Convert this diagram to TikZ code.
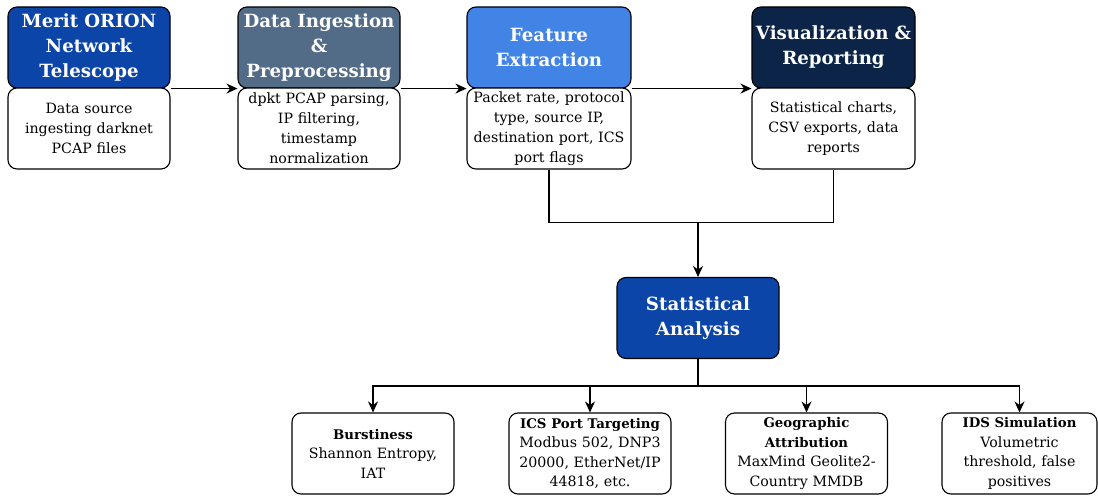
\documentclass[tikz,border=0pt]{standalone}
\usepackage{fontspec}
\setmainfont{DejaVu Serif}
\usetikzlibrary{arrows.meta}
\definecolor{cBlue}{HTML}{0B45A8}
\definecolor{cSlate}{HTML}{526B87}
\definecolor{cLight}{HTML}{4284E6}
\definecolor{cNavy}{HTML}{0B2447}
\tikzset{
  hdr/.style={draw=black, line width=1.1pt, rounded corners=9pt, minimum width=162pt, minimum height=81pt,
    text width=161pt, align=center, inner sep=0.5pt, text=white,
    font=\fontsize{18.2}{25}\selectfont\bfseries},
  bodybox/.style={draw=black, fill=white, line width=1.1pt, rounded corners=9pt, minimum width=162pt, minimum height=81pt,
    text width=161pt, align=center, inner sep=0.5pt,
    font=\fontsize{14.2}{20}\selectfont},
  leaf/.style={draw=black, fill=white, line width=1.1pt, rounded corners=9pt, minimum width=162pt, minimum height=81pt,
    text width=158pt, align=center, inner sep=1pt,
    font=\fontsize{14.2}{19.5}\selectfont},
  conn/.style={line width=1.2pt, draw=black},
  arr/.style={conn, -{Stealth[length=11pt,width=10pt]}},
}
\newcommand{\ttlfont}{\fontsize{13.3}{19.5}\selectfont\bfseries}
\begin{document}
\begin{tikzpicture}[x=1pt,y=-1pt]
\useasboundingbox (0,0) rectangle (1098,497);
% top row
\node[hdr, fill=cBlue] (h1) at (89,47.5) {Merit ORION\\Network\\Telescope};
\node[bodybox] (b1) at (89,128.5) {Data source\\ingesting darknet\\PCAP files};
\node[hdr, fill=cSlate] (h2) at (319,47.5) {Data Ingestion\\\&\\Preprocessing};
\node[bodybox] (b2) at (319,128.5) {dpkt PCAP parsing,\\IP filtering,\\timestamp\\normalization};
\node[hdr, fill=cLight, minimum width=164pt] (h3) at (549,47.5) {Feature\\Extraction};
\node[bodybox, minimum width=164pt, text width=163pt] (b3) at (549,128.5) {Packet rate, protocol\\type, source IP,\\destination port, ICS\\port flags};
\node[hdr, fill=cNavy, minimum width=163pt, text width=162pt] (h4) at (833.5,47.5) {Visualization \&\\Reporting};
\node[bodybox, minimum width=163pt] (b4) at (833.5,128.5) {Statistical charts,\\CSV exports, data\\reports};
% arrows top
\draw[arr] (h1.south east) -- (h2.south west);
\draw[arr] (h2.south east) -- (h3.south west);
\draw[arr] (h3.south east) -- (h4.south west);
% stat
\node[hdr, fill=cBlue] (st) at (698,318) {Statistical\\Analysis};
\draw[conn] (b3.south) -- ++(0,53) coordinate (jl) -| (b4.south);
\coordinate (m) at (st.north |- jl);
\draw[arr] (m) -- (st.north);
% bottom
\node[leaf] (c1) at (373,453.5) {{\ttlfont Burstiness}\\Shannon Entropy,\\IAT};
\node[leaf] (c2) at (590,453.5) {{\ttlfont ICS Port Targeting}\\Modbus 502, DNP3\\20000, EtherNet/IP\\44818, etc.};
\node[leaf] (c3) at (806.5,453.5) {{\ttlfont Geographic}\\{\ttlfont Attribution}\\MaxMind Geolite2-\\Country MMDB};
\node[leaf, minimum width=155pt, text width=153pt] (c4) at (1019.5,453.5) {{\ttlfont IDS Simulation}\\Volumetric\\threshold, false\\positives};
\draw[conn] (st.south) -- ++(0,27) coordinate (bus);
\draw[arr] (bus) -| (c1.north);
\draw[arr] (bus) -| (c2.north);
\draw[arr] (bus) -| (c3.north);
\draw[arr] (bus) -| (c4.north);
\end{tikzpicture}
\end{document}
